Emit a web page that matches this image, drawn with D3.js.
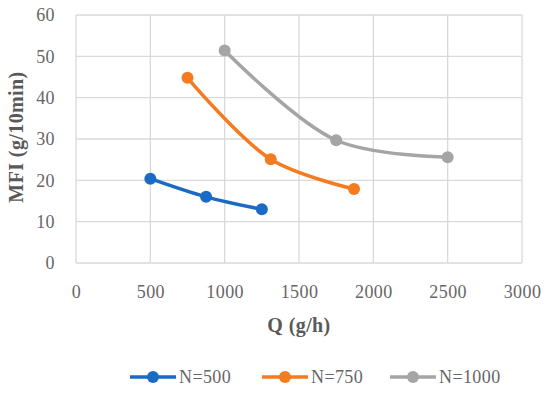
<!DOCTYPE html>
<html>
<head>
<meta charset="utf-8">
<script src="https://cdn.jsdelivr.net/npm/d3@7"></script>
<style>
  body { margin: 0; background: #fff; }
  svg text { font-family: "Palatino Linotype", "Book Antiqua", Palatino, "Liberation Serif", serif; }
</style>
</head>
<body>
<div id="chart"></div>
<script>
// data
var seriesNames = ["N=500", "N=750", "N=1000"];
var seriesColors = ["#1b6ac6", "#f47b20", "#a5a5a5"];
var q500 = [500, 875, 1250];
var mfi500 = [20.4, 16.0, 13.0];
var q750 = [750, 1310, 1870];
var mfi750 = [44.8, 25.1, 17.9];
var q1000 = [1000, 1750, 2500];
var mfi1000 = [51.4, 29.7, 25.6];
var xTicks = [0, 500, 1000, 1500, 2000, 2500, 3000];
var yTicks = [0, 10, 20, 30, 40, 50, 60];

var series = [
  {name: seriesNames[0], color: seriesColors[0], q: q500, mfi: mfi500},
  {name: seriesNames[1], color: seriesColors[1], q: q750, mfi: mfi750},
  {name: seriesNames[2], color: seriesColors[2], q: q1000, mfi: mfi1000}
];

var width = 550, height = 396;
var margin = {top: 15, right: 28, bottom: 133, left: 76};
var w = width - margin.left - margin.right,
    h = height - margin.top - margin.bottom;

var svg = d3.select("#chart").append("svg")
  .attr("width", width)
  .attr("height", height);

var g = svg.append("g")
  .attr("transform", "translate(" + margin.left + "," + margin.top + ")");

var x = d3.scaleLinear().domain([0, 3000]).range([0, w]);
var y = d3.scaleLinear().domain([0, 60]).range([h, 0]);

// gridlines
g.append("g")
  .selectAll("line")
  .data(yTicks)
  .enter().append("line")
    .attr("x1", 0).attr("x2", w)
    .attr("y1", function(d) { return y(d); })
    .attr("y2", function(d) { return y(d); })
    .attr("stroke", "#d9d9d9")
    .attr("stroke-width", 1.3);

g.append("g")
  .selectAll("line")
  .data(xTicks)
  .enter().append("line")
    .attr("x1", function(d) { return x(d); })
    .attr("x2", function(d) { return x(d); })
    .attr("y1", 0).attr("y2", h)
    .attr("stroke", "#d9d9d9")
    .attr("stroke-width", 1.3);

// axes (labels only)
var xAxis = g.append("g")
  .attr("transform", "translate(0," + h + ")")
  .call(d3.axisBottom(x).tickValues(xTicks).tickSize(0).tickPadding(22).tickFormat(d3.format("d")));
xAxis.select(".domain").remove();
xAxis.selectAll("text")
  .attr("fill", "#666")
  .style("font-size", "18px")
  .style("letter-spacing", "0.4px");

var yAxis = g.append("g")
  .call(d3.axisLeft(y).tickValues(yTicks).tickSize(0).tickPadding(21));
yAxis.select(".domain").remove();
yAxis.selectAll("text")
  .attr("fill", "#666")
  .style("font-size", "18px")
  .style("letter-spacing", "0.4px");

// axis titles
svg.append("text")
  .attr("x", margin.left + w / 2)
  .attr("y", 332)
  .attr("text-anchor", "middle")
  .attr("fill", "#595959")
  .style("font-size", "20px")
  .style("font-weight", "bold")
  .style("letter-spacing", "0.4px")
  .text("Q (g/h)");

svg.append("text")
  .attr("transform", "translate(23," + (margin.top + h / 2 - 2) + ") rotate(-90)")
  .attr("text-anchor", "middle")
  .attr("fill", "#595959")
  .style("font-size", "20px")
  .style("font-weight", "bold")
  .style("letter-spacing", "0.4px")
  .text("MFI (g/10min)");

// lines + markers
var line = d3.line()
  .x(function(d) { return x(d[0]); })
  .y(function(d) { return y(d[1]); })
  .curve(d3.curveCatmullRom.alpha(0.5));

series.forEach(function(s) {
  var pts = s.q.map(function(v, i) { return [v, s.mfi[i]]; });
  g.append("path")
    .datum(pts)
    .attr("fill", "none")
    .attr("stroke", s.color)
    .attr("stroke-width", 3.5)
    .attr("stroke-linecap", "round")
    .attr("d", line);
  g.selectAll(null)
    .data(pts)
    .enter().append("circle")
      .attr("cx", function(d) { return x(d[0]); })
      .attr("cy", function(d) { return y(d[1]); })
      .attr("r", 6)
      .attr("fill", s.color);
});

// legend
var legendX = [130, 262, 390];
var legend = svg.append("g");
series.forEach(function(s, i) {
  var lg = legend.append("g").attr("transform", "translate(" + legendX[i] + ",377)");
  lg.append("line")
    .attr("x1", 0).attr("x2", 46)
    .attr("stroke", s.color)
    .attr("stroke-width", 3.5);
  lg.append("circle")
    .attr("cx", 23).attr("r", 6)
    .attr("fill", s.color);
  lg.append("text")
    .attr("x", 49)
    .attr("dy", "0.35em")
    .attr("fill", "#666")
    .style("font-size", "18px")
    .style("letter-spacing", "0.4px")
    .text(s.name);
});
</script>
</body>
</html>
